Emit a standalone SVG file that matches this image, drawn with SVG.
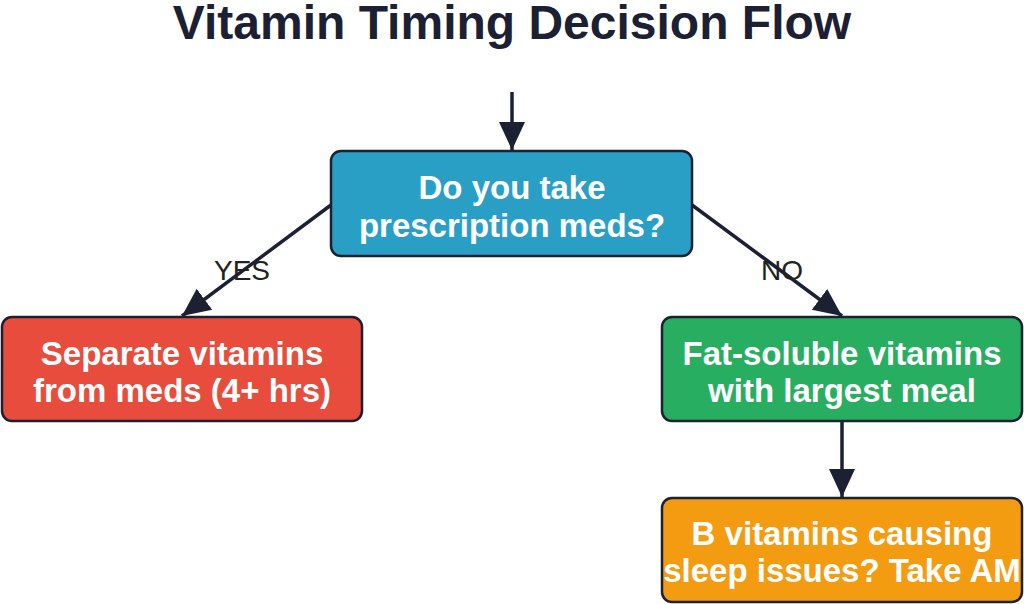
<svg xmlns="http://www.w3.org/2000/svg" width="1024" height="604" viewBox="0 0 1024 604">
<defs>
<style>
.box{stroke:#1c2033;stroke-width:2.5}
.t{font-family:"Liberation Sans",Arial,sans-serif;font-weight:bold;font-size:33px;fill:#fff;text-anchor:middle}
.lbl{font-family:"Liberation Sans",Arial,sans-serif;font-size:28px;fill:#222;text-anchor:middle}
.c{stroke:#1c2033;stroke-width:3.5;fill:none}
</style>
<marker id="a" markerWidth="30" markerHeight="30" refX="28" refY="15" orient="auto" markerUnits="userSpaceOnUse"><path d="M0,2 L28,15 L0,28 z" fill="#1c2033"/></marker>
</defs>
<rect width="1024" height="604" fill="#fff"/>
<text x="512" y="39" font-family="'Liberation Sans',Arial,sans-serif" font-weight="bold" font-size="48" fill="#1c2033" text-anchor="middle">Vitamin Timing Decision Flow</text>
<g id="connectors">
<line class="c" x1="512" y1="92" x2="512" y2="150" marker-end="url(#a)"/>
<line class="c" x1="331" y1="205" x2="182" y2="316" marker-end="url(#a)"/>
<line class="c" x1="692" y1="205" x2="842" y2="316" marker-end="url(#a)"/>
<line class="c" x1="842" y1="422" x2="842" y2="497" marker-end="url(#a)"/>
<text class="lbl" x="242" y="280">YES</text>
<text class="lbl" x="782" y="280">NO</text>
</g>
<g id="q"><rect class="box" x="331" y="151" width="361" height="105" rx="10" fill="#2a9fc6"/><text class="t" x="512" y="199">Do you take</text><text class="t" x="512" y="237">prescription meds?</text></g>
<g id="yes"><rect class="box" x="2" y="317" width="360" height="104" rx="10" fill="#e74c3c"/><text class="t" x="182" y="365">Separate vitamins</text><text class="t" x="182" y="402">from meds (4+ hrs)</text></g>
<g id="no"><rect class="box" x="662" y="317" width="360" height="104" rx="10" fill="#27ae60"/><text class="t" x="842" y="365">Fat-soluble vitamins</text><text class="t" x="842" y="402">with largest meal</text></g>
<g id="b"><rect class="box" x="662" y="498" width="360" height="104" rx="10" fill="#f39c12"/><text class="t" x="842" y="545">B vitamins causing</text><text class="t" x="842" y="582">sleep issues? Take AM</text></g>
</svg>
